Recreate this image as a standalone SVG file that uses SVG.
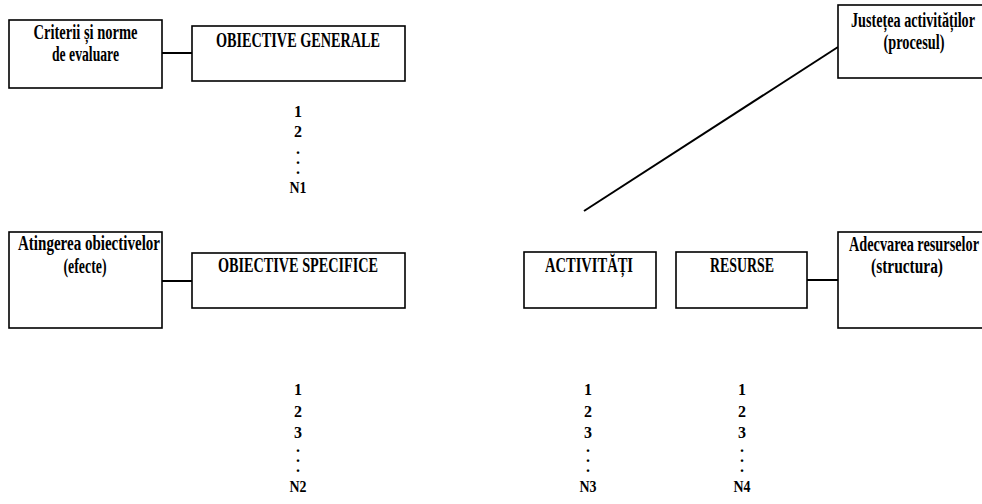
<svg xmlns="http://www.w3.org/2000/svg" width="982" height="504" viewBox="0 0 982 504">
<style>
  .box { fill: #ffffff; stroke: #000000; stroke-width: 1.6; }
  .conn { stroke: #000000; stroke-width: 2; fill: none; }
  .lbl { font-family: "Liberation Serif", "Times New Roman", serif; font-weight: bold; font-size: 20px; text-anchor: middle; fill: #000; }
  .num { font-family: "Liberation Serif", "Times New Roman", serif; font-weight: bold; font-size: 16px; text-anchor: middle; fill: #000; }
</style>
<rect width="982" height="504" fill="#ffffff"/>

<g id="connectors">
  <line class="conn" x1="162" y1="53" x2="192" y2="53"/>
  <line class="conn" x1="162" y1="281" x2="192" y2="281"/>
  <line class="conn" x1="807" y1="280" x2="838" y2="280"/>
  <line class="conn" stroke-width="1.6" x1="584" y1="211" x2="838" y2="47"/>
</g>

<g id="criterii">
  <rect class="box" x="9" y="20" width="153" height="68"/>
  <text class="lbl" x="85.5" y="39" textLength="104" lengthAdjust="spacingAndGlyphs">Criterii și norme</text>
  <text class="lbl" x="85.5" y="61" textLength="67" lengthAdjust="spacingAndGlyphs">de evaluare</text>
</g>

<g id="obiective-generale">
  <rect class="box" x="192" y="26" width="213" height="55"/>
  <text class="lbl" x="298" y="47" textLength="164" lengthAdjust="spacingAndGlyphs">OBIECTIVE GENERALE</text>
</g>

<g id="justetea">
  <rect class="box" x="838" y="5" width="160" height="73"/>
  <text class="lbl" x="913" y="27" textLength="124" lengthAdjust="spacingAndGlyphs">Justețea activităților</text>
  <text class="lbl" x="914" y="49" textLength="61" lengthAdjust="spacingAndGlyphs">(procesul)</text>
</g>

<g id="atingerea">
  <rect class="box" x="9" y="232" width="153" height="96"/>
  <text class="lbl" x="89" y="250" textLength="142" lengthAdjust="spacingAndGlyphs">Atingerea obiectivelor</text>
  <text class="lbl" x="85" y="273" textLength="43" lengthAdjust="spacingAndGlyphs">(efecte)</text>
</g>

<g id="obiective-specifice">
  <rect class="box" x="192" y="253" width="213" height="55"/>
  <text class="lbl" x="298" y="272" textLength="160" lengthAdjust="spacingAndGlyphs">OBIECTIVE SPECIFICE</text>
</g>

<g id="activitati">
  <rect class="box" x="524" y="252" width="132" height="56"/>
  <text class="lbl" x="589" y="272" textLength="88" lengthAdjust="spacingAndGlyphs">ACTIVITĂȚI</text>
</g>

<g id="resurse">
  <rect class="box" x="676" y="252" width="131" height="56"/>
  <text class="lbl" x="742" y="272" textLength="64" lengthAdjust="spacingAndGlyphs">RESURSE</text>
</g>

<g id="adecvarea">
  <rect class="box" x="838" y="232" width="160" height="96"/>
  <text class="lbl" x="914" y="251" textLength="130" lengthAdjust="spacingAndGlyphs">Adecvarea resurselor</text>
  <text class="lbl" x="907" y="273" textLength="72" lengthAdjust="spacingAndGlyphs">(structura)</text>
</g>

<g id="list-n1">
  <text class="num" x="298" y="117">1</text>
  <text class="num" x="298" y="137">2</text>
  <text class="num"><tspan x="298" y="154">.</tspan><tspan x="298" y="164">.</tspan><tspan x="298" y="174">.</tspan></text>
  <text class="num" x="298" y="193" textLength="17" lengthAdjust="spacingAndGlyphs">N1</text>
</g>

<g id="list-n2">
  <text class="num" x="298" y="395">1</text>
  <text class="num" x="298" y="417">2</text>
  <text class="num" x="298" y="438">3</text>
  <text class="num"><tspan x="298" y="452">.</tspan><tspan x="298" y="462">.</tspan><tspan x="298" y="472">.</tspan></text>
  <text class="num" x="298" y="492" textLength="17" lengthAdjust="spacingAndGlyphs">N2</text>
</g>

<g id="list-n3">
  <text class="num" x="588" y="395">1</text>
  <text class="num" x="588" y="417">2</text>
  <text class="num" x="588" y="438">3</text>
  <text class="num"><tspan x="588" y="452">.</tspan><tspan x="588" y="462">.</tspan><tspan x="588" y="472">.</tspan></text>
  <text class="num" x="588" y="492" textLength="17" lengthAdjust="spacingAndGlyphs">N3</text>
</g>

<g id="list-n4">
  <text class="num" x="742" y="395">1</text>
  <text class="num" x="742" y="417">2</text>
  <text class="num" x="742" y="438">3</text>
  <text class="num"><tspan x="742" y="452">.</tspan><tspan x="742" y="462">.</tspan><tspan x="742" y="472">.</tspan></text>
  <text class="num" x="742" y="492" textLength="17" lengthAdjust="spacingAndGlyphs">N4</text>
</g>
</svg>
